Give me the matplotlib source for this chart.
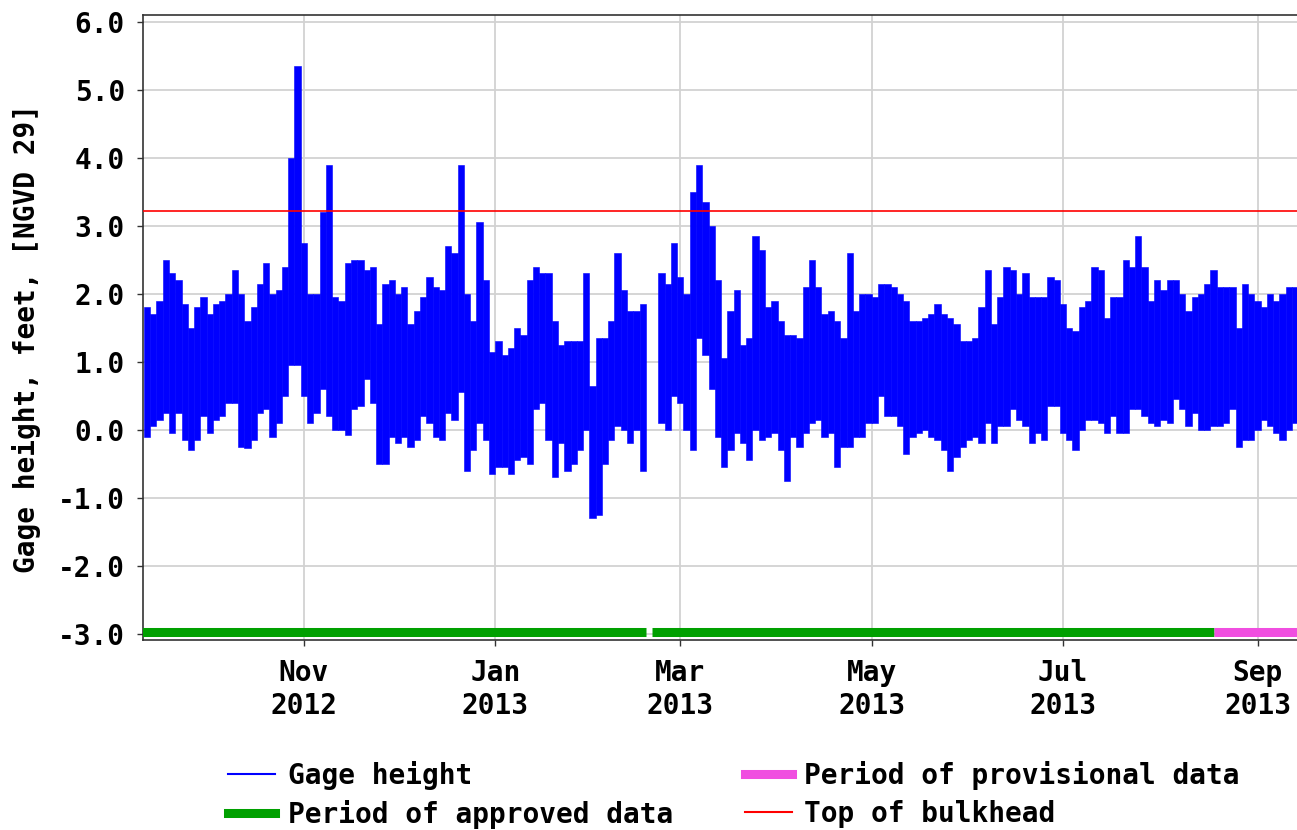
import numpy as np
import pandas as pd
import matplotlib
matplotlib.use("Agg")
import matplotlib.pyplot as plt
import matplotlib.dates as mdates
from matplotlib.lines import Line2D
from datetime import datetime

# Gage height: high / low of each 2-day window (feet, NGVD 29)
start_date = "2012-09-11"
gage_high = [
    1.8, 1.7, 1.9, 2.5, 2.3, 2.2, 1.85, 1.5, 1.8, 1.95, 1.7, 1.85, 1.9, 2.0, 2.35, 2.0,
    1.6, 1.8, 2.15, 2.45, 2.0, 2.05, 2.4, 4.0, 5.35, 2.75, 2.0, 2.0, 3.2, 3.9, 1.95, 1.9,
    2.45, 2.5, 2.5, 2.35, 2.4, 1.55, 2.15, 2.2, 2.0, 2.1, 1.55, 1.75, 1.95, 2.25, 2.1, 2.05,
    2.7, 2.6, 3.9, 2.0, 1.6, 3.05, 2.2, 1.15, 1.3, 1.1, 1.2, 1.5, 1.4, 2.2, 2.4, 2.3,
    2.3, 1.6, 1.25, 1.3, 1.3, 1.3, 2.3, 0.65, 1.35, 1.35, 1.6, 2.6, 2.05, 1.75, 1.75, 1.85,
    np.nan, np.nan, 2.3, 2.15, 2.75, 2.25, 2.0, 3.5, 3.9, 3.35, 3.0, 2.2, 1.05, 1.75, 2.05, 1.25,
    1.35, 2.85, 2.65, 1.8, 1.9, 1.6, 1.4, 1.4, 1.35, 2.1, 2.5, 2.1, 1.7, 1.75, 1.6, 1.35,
    2.6, 1.75, 2.0, 2.0, 1.95, 2.15, 2.15, 2.1, 2.0, 1.9, 1.6, 1.6, 1.65, 1.7, 1.85, 1.7,
    1.65, 1.55, 1.3, 1.3, 1.35, 1.8, 2.35, 1.55, 1.95, 2.4, 2.35, 2.0, 2.3, 1.95, 1.95, 1.95,
    2.25, 2.2, 1.85, 1.5, 1.45, 1.8, 1.9, 2.4, 2.35, 1.65, 1.95, 1.95, 2.5, 2.4, 2.85, 2.4,
    1.9, 2.2, 2.05, 2.2, 2.2, 2.0, 1.75, 1.95, 2.0, 2.15, 2.35, 2.1, 2.1, 2.1, 1.5, 2.15,
    2.0, 1.9, 1.8, 2.0, 1.9, 2.0, 2.1, 2.1, 2.0,
]
gage_low = [
    -0.1, 0.05, 0.15, 0.25, -0.05, 0.25, -0.15, -0.3, -0.15, 0.2, -0.05, 0.15, 0.2, 0.4, 0.4, -0.25,
    -0.27, -0.15, 0.25, 0.3, -0.1, 0.1, 0.5, 0.95, 0.95, 0.5, 0.1, 0.25, 0.6, 0.2, 0.0, 0.0,
    -0.07, 0.3, 0.35, 0.75, 0.4, -0.5, -0.5, -0.1, -0.2, -0.1, -0.25, -0.15, 0.2, 0.1, -0.1, -0.15,
    0.25, 0.15, 0.55, -0.6, -0.3, 0.1, -0.15, -0.65, -0.55, -0.55, -0.65, -0.45, -0.4, -0.5, 0.3, 0.4,
    -0.15, -0.7, -0.2, -0.6, -0.5, -0.3, 0.0, -1.3, -1.25, -0.5, -0.15, 0.05, 0.0, -0.2, 0.0, -0.6,
    np.nan, np.nan, 0.1, 0.0, 0.5, 0.4, 0.0, -0.3, 1.35, 1.1, 0.6, -0.1, -0.55, -0.3, -0.05, -0.2,
    -0.45, 0.0, -0.15, -0.1, -0.05, -0.3, -0.75, -0.1, -0.25, -0.05, 0.1, 0.15, -0.1, -0.05, -0.55, -0.25,
    -0.25, -0.1, -0.1, 0.1, 0.1, 0.5, 0.2, 0.2, 0.05, -0.35, -0.1, -0.05, 0.0, -0.1, -0.15, -0.3,
    -0.6, -0.4, -0.25, -0.15, -0.1, -0.2, 0.1, -0.2, 0.05, 0.05, 0.3, 0.15, 0.05, -0.2, -0.05, -0.15,
    0.35, 0.35, -0.05, -0.15, -0.3, 0.0, 0.15, 0.15, 0.1, -0.05, 0.2, -0.05, -0.05, 0.3, 0.3, 0.2,
    0.1, 0.05, 0.15, 0.1, 0.45, 0.3, 0.05, 0.25, 0.0, 0.0, 0.05, 0.05, 0.1, 0.3, -0.25, -0.15,
    -0.15, 0.0, 0.15, 0.05, -0.05, -0.15, 0.0, 0.1, 0.2,
]

bulkhead_top = 3.22
approved_periods = [("2012-09-10", "2013-02-18"), ("2013-02-20", "2013-08-18")]
provisional_periods = [("2013-08-18", "2013-09-14")]
period_bar_level = -2.97

x_start = datetime(2012, 9, 10, 17)
x_end = datetime(2013, 9, 13, 14)

FONT = "DejaVu Sans Mono"
plt.rcParams["font.family"] = FONT
plt.rcParams["font.weight"] = "bold"
plt.rcParams["font.size"] = 20

BLUE = "#0000ff"
GREEN = "#00a000"
PINK = "#f04ee0"
RED = "#ff0000"

fig = plt.figure(figsize=(12.97, 8.30), dpi=100)
ax = fig.add_axes([143 / 1297, 1 - 640 / 830, 1 - 143 / 1297, 625 / 830])

dates = mdates.date2num(pd.date_range(start_date, periods=len(gage_high), freq="2D"))
hi = np.array(gage_high)
lo = np.array(gage_low)
ax.bar(dates, hi - lo, bottom=lo, width=2.0, align="edge",
       color=BLUE, edgecolor=BLUE, linewidth=0.4, zorder=3)

ax.axhline(bulkhead_top, color=RED, lw=1.2, zorder=4)

for a, b in approved_periods:
    ax.hlines(period_bar_level, mdates.datestr2num(a), mdates.datestr2num(b),
              color=GREEN, lw=6.5, zorder=5)
for a, b in provisional_periods:
    ax.hlines(period_bar_level, mdates.datestr2num(a), mdates.datestr2num(b),
              color=PINK, lw=6.5, zorder=5)

ax.xaxis_date()
ax.set_xlim(x_start, x_end)
ax.set_ylim(-3.09, 6.10)
ax.set_yticks(np.arange(-3, 7, 1))
ax.yaxis.set_major_formatter(plt.FuncFormatter(lambda v, p: f"{v:.1f}"))
ax.xaxis.set_major_locator(mdates.MonthLocator(bymonth=[1, 3, 5, 7, 9, 11]))
ax.xaxis.set_major_formatter(mdates.DateFormatter("%b\n%Y"))

ax.grid(True, color="#d2d2d2", lw=1.3, zorder=0)
ax.set_axisbelow(True)
for side in ["left", "bottom", "top"]:
    ax.spines[side].set_color("#333333")
    ax.spines[side].set_linewidth(1.2)
ax.spines["right"].set_visible(False)
ax.tick_params(axis="both", length=4, width=1, color="#333333", labelsize=20)
ax.tick_params(axis="y", pad=9)
ax.tick_params(axis="x", pad=10)
for lab in ax.get_xticklabels() + ax.get_yticklabels():
    lab.set_fontweight("bold")

ax.set_ylabel("Gage height, feet, [NGVD 29]", fontsize=20, fontweight="bold")
ax.yaxis.set_label_coords(-0.088, 0.482)

handles = [
    Line2D([], [], color=BLUE, lw=1.5),
    Line2D([], [], color=GREEN, lw=6.5),
    Line2D([], [], color=PINK, lw=6.5),
    Line2D([], [], color=RED, lw=1.5),
]
labels = ["Gage height", "Period of approved data",
          "Period of provisional data", "Top of bulkhead"]
fig.legend(handles, labels, ncol=2, frameon=False, loc="upper left",
           bbox_to_anchor=(228 / 1297, 1 - 761 / 830), borderpad=0,
           borderaxespad=0, handlelength=1.7, handletextpad=0.45,
           columnspacing=2.58, labelspacing=0.36,
           prop={"family": FONT, "weight": "bold", "size": 20})

fig.savefig("out.png", dpi=100)
